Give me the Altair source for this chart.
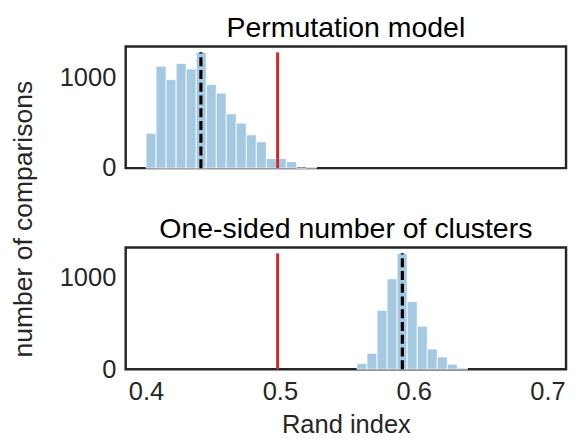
import altair as alt
import pandas as pd

# ---- data ----
top_edges = [0.4000, 0.4075, 0.4150, 0.4225, 0.4300, 0.4375, 0.4450, 0.4525, 0.4599,
             0.4674, 0.4749, 0.4824, 0.4899, 0.4974, 0.5049, 0.5124, 0.5199, 0.5274]
top_counts = [384, 1123, 975, 1152, 1091, 1275, 920, 826, 598, 496, 366, 290, 105, 105, 72, 0, 11]
top_mean = 0.4410

bottom_edges = [0.5576, 0.5651, 0.5726, 0.5801, 0.5876, 0.5951, 0.6026, 0.6101,
                0.6176, 0.6251, 0.6326, 0.6401]
bottom_counts = [61, 173, 640, 982, 1259, 734, 468, 219, 133, 54, 14]
bottom_mean = 0.5915

chance_level = 0.4983
x_ticks = [0.4, 0.5, 0.6, 0.7]
y_ticks = [0, 1000]
x_domain = [0.3848, 0.7138]
top_ymax = 1339
bottom_ymax = 1322
y_title = "number of comparisons"

FONT = "Liberation Sans"
BAR = "#a5c9e1"
RED = "#d62728"
INK = "#262626"
W, H = 449, 124


def panel(edges, counts, mean, ymax, title, show_x):
    bars_df = pd.DataFrame({"x0": edges[:-1], "x1": edges[1:], "count": counts, "base": 0})
    peak = max(counts)
    chance_df = pd.DataFrame({"x": [chance_level], "y0": [0], "y1": [peak]})
    mean_df = pd.DataFrame({"x": [mean], "y0": [0], "y1": [peak]})
    if show_x:
        xaxis = alt.Axis(values=x_ticks, format=".1f", title="Rand index")
    else:
        xaxis = None
    yaxis = alt.Axis(values=y_ticks, format="d", title=None)
    xs = alt.Scale(domain=x_domain, nice=False, zero=False)
    ys = alt.Scale(domain=[0, ymax], nice=False)

    bars = alt.Chart(bars_df).mark_rect(fill=BAR, stroke="white", strokeWidth=0.8).encode(
        x=alt.X("x0:Q", scale=xs, axis=xaxis),
        x2="x1:Q",
        y=alt.Y("count:Q", scale=ys, axis=yaxis),
        y2="base:Q",
    )
    red = alt.Chart(chance_df).mark_rule(color=RED, strokeWidth=3).encode(
        x="x:Q", y="y0:Q", y2="y1:Q")
    dash = alt.Chart(mean_df).mark_rule(
        color="black", strokeWidth=3.2, strokeDash=[9, 4]).encode(x="x:Q", y="y0:Q", y2="y1:Q")
    return alt.layer(bars, red, dash).properties(width=W, height=H, title=title)


top = panel(top_edges, top_counts, top_mean, top_ymax, "Permutation model", False)
bottom = panel(bottom_edges, bottom_counts, bottom_mean, bottom_ymax,
               "One-sided number of clusters", True)

panels = alt.vconcat(top, bottom, spacing=31).resolve_scale(y="independent")

ylab = alt.Chart(pd.DataFrame({"label": [y_title]})).mark_text(
    angle=270, font=FONT, fontSize=27, color=INK, align="center", baseline="middle"
).encode(
    text="label:N", x=alt.value(16), y=alt.value(176)
).properties(width=36, height=350, view=alt.ViewBackground(stroke="transparent", strokeWidth=0))

chart = alt.hconcat(ylab, panels, spacing=14).properties(
    padding={"left": 0, "top": 0, "right": 0, "bottom": 0}
).configure_view(
    stroke=INK, strokeWidth=2.5
).configure_title(
    font=FONT, fontSize=29, fontWeight="normal", color="black", offset=4
).configure_axis(
    labelFont=FONT, labelFontSize=26, labelColor=INK, ticks=False, domain=False, grid=False,
    titleFont=FONT, titleFontSize=26, titleFontWeight="normal", titleColor=INK,
    labelPadding=10, titlePadding=8
)

chart.save("out.html", embed_options={"renderer": "svg", "actions": False})
